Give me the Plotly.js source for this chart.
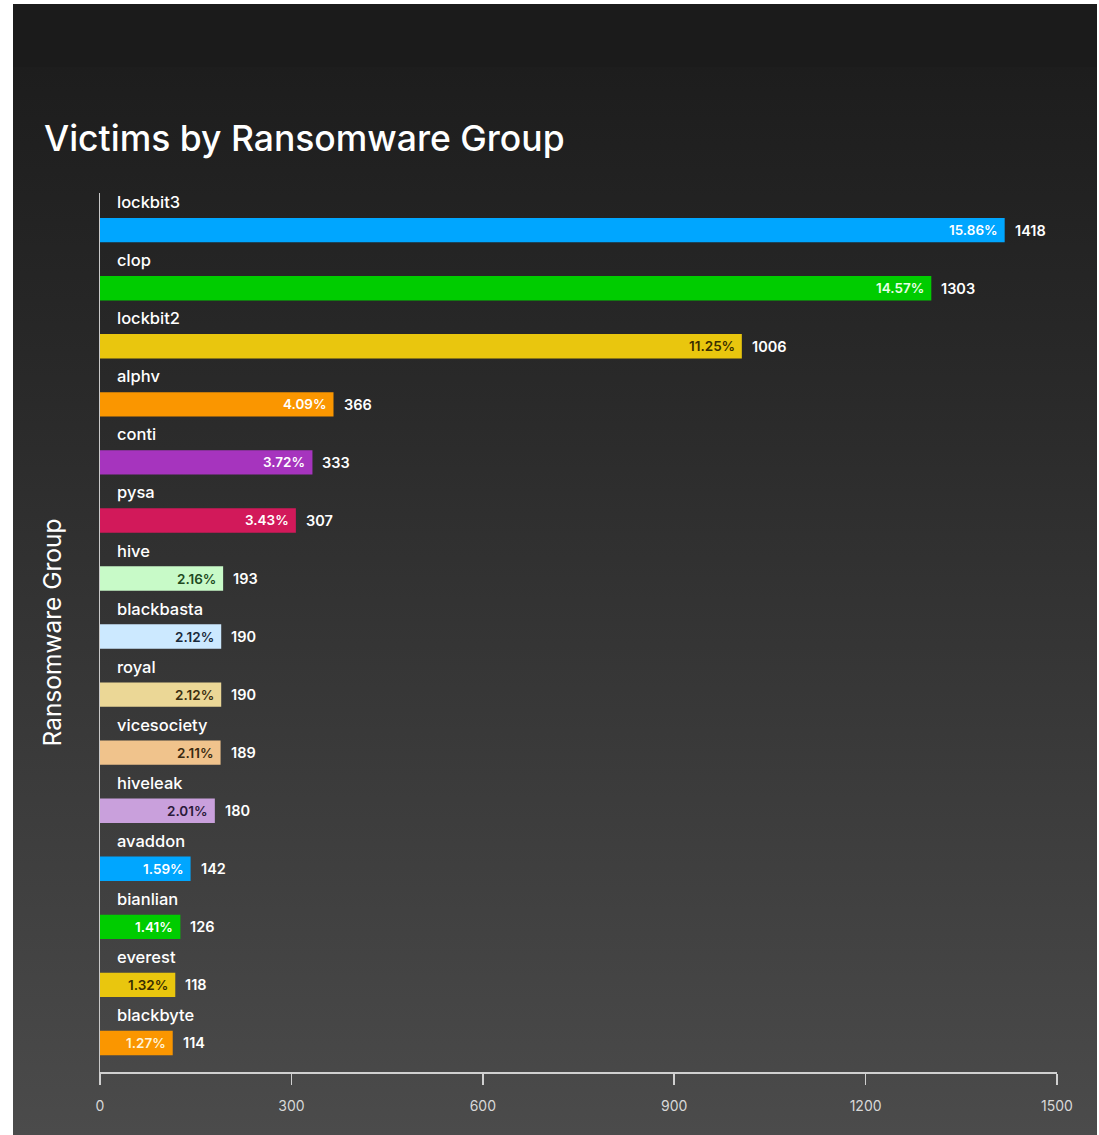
<!DOCTYPE html>
<html>
<head>
<meta charset="utf-8">
<script src="https://cdn.plot.ly/plotly-3.0.1.min.js"></script>
<style>
  html, body { margin: 0; padding: 0; background: #ffffff; width: 1099px; height: 1135px; overflow: hidden; }
  #bg { position: absolute; left: 13px; top: 4px; width: 1084px; height: 1131px;
        background: linear-gradient(to bottom, #1b1b1b 0px, #1b1b1b 63px, #1d1d1d 63px, #2a2a2a 400px, #3a3a3a 750px, #4b4b4b 100%); }
  #chart { position: absolute; left: 0; top: 0; width: 1099px; height: 1135px; }
</style>
</head>
<body>
<div id="bg"></div>
<div id="chart"></div>
<script>
const groups = ['lockbit3','clop','lockbit2','alphv','conti','pysa','hive','blackbasta','royal','vicesociety','hiveleak','avaddon','bianlian','everest','blackbyte'];
const victims = [1418,1303,1006,366,333,307,193,190,190,189,180,142,126,118,114];
const percents = [15.86,14.57,11.25,4.09,3.72,3.43,2.16,2.12,2.12,2.11,2.01,1.59,1.41,1.32,1.27];
const barColors = ['#00a6ff','#00cc00','#e9c60e','#fa9600','#a634be','#d2195a','#c8fac8','#cce9ff','#ebd796','#f0c38c','#c9a0dc','#00a6ff','#00cc00','#e9c60e','#fa9600'];
const pctColors = ['#ffffff','#e8ffe8','#3a2e00','#ffffff','#ffffff','#ffffff','#1f4a1f','#1a2a3a','#3a2e10','#3a2a10','#2a1a3a','#ffffff','#ffffff','#3a2e00','#fff4d8'];
const xTicks = [0,300,600,900,1200,1500];

const FONT = 'Inter, "Noto Sans", sans-serif';

const trace = {
  type: 'bar',
  orientation: 'h',
  y: groups,
  x: victims,
  width: 0.42,
  marker: { color: barColors, line: { width: 0 } },
  hoverinfo: 'x+y'
};

const annotations = [];
groups.forEach((g, i) => {
  annotations.push({
    x: 0, y: g, xref: 'x', yref: 'y', xanchor: 'left', yanchor: 'middle',
    xshift: 15, yshift: 28, showarrow: false,
    text: g, font: { family: FONT, size: 16.5, color: '#ffffff', weight: 500 }
  });
  annotations.push({
    x: victims[i], y: g, xref: 'x', yref: 'y', xanchor: 'right', yanchor: 'middle',
    xshift: -5, showarrow: false,
    text: percents[i].toFixed(2) + '%', font: { family: FONT, size: 13.5, color: pctColors[i], weight: 600 }
  });
  annotations.push({
    x: victims[i], y: g, xref: 'x', yref: 'y', xanchor: 'left', yanchor: 'middle',
    xshift: 8, showarrow: false,
    text: String(victims[i]), font: { family: FONT, size: 14.5, color: '#ffffff', weight: 600 }
  });
});

const layout = {
  width: 1099, height: 1135,
  paper_bgcolor: 'rgba(0,0,0,0)',
  plot_bgcolor: 'rgba(0,0,0,0)',
  margin: { l: 100, r: 42, t: 193, b: 63 },
  showlegend: false,
  font: { family: FONT, color: '#ffffff' },
  title: {
    text: 'Victims by Ransomware Group',
    xref: 'container', yref: 'container',
    x: 44 / 1099, xanchor: 'left',
    y: 1 - 139 / 1135, yanchor: 'middle',
    font: { family: FONT, size: 35.5, color: '#ffffff', weight: 500 }
  },
  xaxis: {
    range: [0, 1500],
    tickvals: xTicks,
    ticktext: xTicks.map(String),
    ticks: 'outside', ticklen: 11, tickwidth: 1.5, tickcolor: '#d0d0d0',
    showline: true, linecolor: '#d0d0d0', linewidth: 1.5,
    showgrid: false, zeroline: false,
    ticklabelstandoff: 10,
    tickfont: { family: FONT, size: 14, color: '#d8d8d8' }
  },
  yaxis: {
    type: 'category',
    categoryorder: 'array', categoryarray: groups,
    range: [14.5, -0.64],
    showticklabels: false, ticks: '',
    showline: true, linecolor: '#c8c8c8', linewidth: 1.5,
    showgrid: false, zeroline: false,
    title: { text: 'Ransomware Group', standoff: 30, font: { family: FONT, size: 24.5, color: '#ffffff' } }
  },
  annotations: annotations
};

Plotly.newPlot('chart', [trace], layout, { displayModeBar: false, staticPlot: true });
</script>
</body>
</html>
